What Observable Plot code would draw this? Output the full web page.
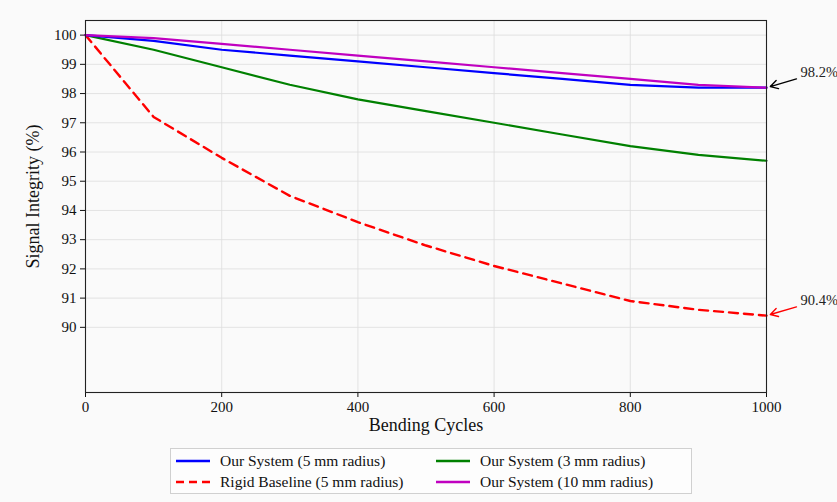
<!DOCTYPE html>
<html><head><meta charset="utf-8">
<script src="https://cdn.jsdelivr.net/npm/d3@7"></script>
<script src="https://cdn.jsdelivr.net/npm/@observablehq/plot@0.6"></script>
<style>
body{margin:0;background:#fafafa;font-family:"Liberation Serif","DejaVu Serif",serif;}
#wrap{position:relative;width:837px;height:502px;}
#legend{position:absolute;left:170px;top:448px;width:522px;height:46px;border:1px solid #d0d0d0;background:#fdfdfd;box-sizing:border-box;font-size:15.5px;color:#111;}
.item{position:absolute;display:flex;align-items:center;white-space:nowrap;}
.item svg{margin-right:10px;}
</style></head><body>
<div id="wrap"><div id="chart"></div><div id="legend"></div></div>
<script>
const cycles = [0,100,200,300,400,500,600,700,800,900,1000];
const sys5 = [100,99.8,99.5,99.3,99.1,98.9,98.7,98.5,98.3,98.2,98.2];
const rigid5 = [100,97.2,95.8,94.5,93.6,92.8,92.1,91.5,90.9,90.6,90.4];
const sys3 = [100,99.5,98.9,98.3,97.8,97.4,97.0,96.6,96.2,95.9,95.7];
const sys10 = [100,99.9,99.7,99.5,99.3,99.1,98.9,98.7,98.5,98.3,98.2];
const seriesNames = ["Our System (5 mm radius)","Rigid Baseline (5 mm radius)","Our System (3 mm radius)","Our System (10 mm radius)"];
const seriesColors = ["#0000ff","#ff0000","#008000","#c000c0"];
const seriesValues = [sys5, rigid5, sys3, sys10];
const xTicks = [0,200,400,600,800,1000];
const yTicks = [90,91,92,93,94,95,96,97,98,99,100];
const xLabel = "Bending Cycles";
const yLabel = "Signal Integrity (%)";
const annX = [1000,1000];
const annY = [98.2,90.4];
const annText = ["98.2%","90.4%"];
const annColor = ["#000000","#ff0000"];

const rows = [];
seriesValues.forEach((vals,i)=>vals.forEach((v,j)=>rows.push({s:seriesNames[i],x:cycles[j],y:v})));
const ann = annX.map((x,i)=>({x, y:annY[i], t:annText[i], c:annColor[i]}));

const lineMark = (name, i, extra={}) => Plot.line(rows.filter(d=>d.s===name), {x:"x", y:"y", stroke:seriesColors[i], strokeWidth:2.2, ...extra});
const font = '"Liberation Serif","DejaVu Serif",serif';

const chart = Plot.plot({
  width:837, height:440,
  marginLeft:85, marginRight:71, marginTop:20, marginBottom:48,
  style:{fontFamily:font, background:"transparent", color:"#111"},
  x:{domain:[0,1000]},
  y:{domain:[87.77,100.5]},
  marks:[
    Plot.gridX(xTicks, {stroke:"#ddd", strokeOpacity:1, strokeWidth:0.8}),
    Plot.gridY(yTicks, {stroke:"#ddd", strokeOpacity:1, strokeWidth:0.8}),
    Plot.axisX(xTicks, {tickSize:5, fontSize:15, tickFormat:d=>String(d), label:null, tickPadding:4}),
    Plot.axisY(yTicks, {tickSize:5, fontSize:15, tickFormat:d=>String(d), label:null, tickPadding:4}),
    Plot.text([xLabel], {frameAnchor:"bottom", dy:33, fontSize:18, fill:"#111", textAnchor:"middle", lineAnchor:"middle", clip:false}),
    Plot.text([yLabel], {frameAnchor:"left", dx:-52, dy:-10, rotate:-90, fontSize:18, fill:"#111", textAnchor:"middle", lineAnchor:"middle", clip:false}),
    lineMark(seriesNames[2],2),
    lineMark(seriesNames[1],1,{strokeDasharray:"9,6", strokeWidth:2.4}),
    lineMark(seriesNames[0],0),
    lineMark(seriesNames[3],3),
    Plot.frame({stroke:"#222", strokeWidth:1.1}),
    Plot.arrow(ann, {x1:d=>d.x+44, y1:d=>d.y+0.3, x2:"x", y2:"y", stroke:"c", strokeWidth:1.4, headLength:9, insetEnd:4, bend:false, clip:false}),
    Plot.text(ann, {x:"x", y:"y", text:"t", dx:34, dy:-15, textAnchor:"start", fontSize:14.5, fill:"#222", clip:false})
  ]
});
document.getElementById("chart").appendChild(chart);

const leg = document.getElementById("legend");
const pos = [[5,3],[5,24],[265,3],[265,24]];
seriesNames.forEach((n,i)=>{
  const d = document.createElement("div");
  d.className="item";
  d.style.left=pos[i][0]+"px"; d.style.top=pos[i][1]+"px";
  const dash = i===1 ? 'stroke-dasharray="8,5"' : '';
  d.innerHTML = `<svg width="34" height="16"><line x1="0" y1="8" x2="34" y2="8" stroke="${seriesColors[i]}" stroke-width="2.4" ${dash}/></svg><span>${n}</span>`;
  leg.appendChild(d);
});
</script>
</body></html>
